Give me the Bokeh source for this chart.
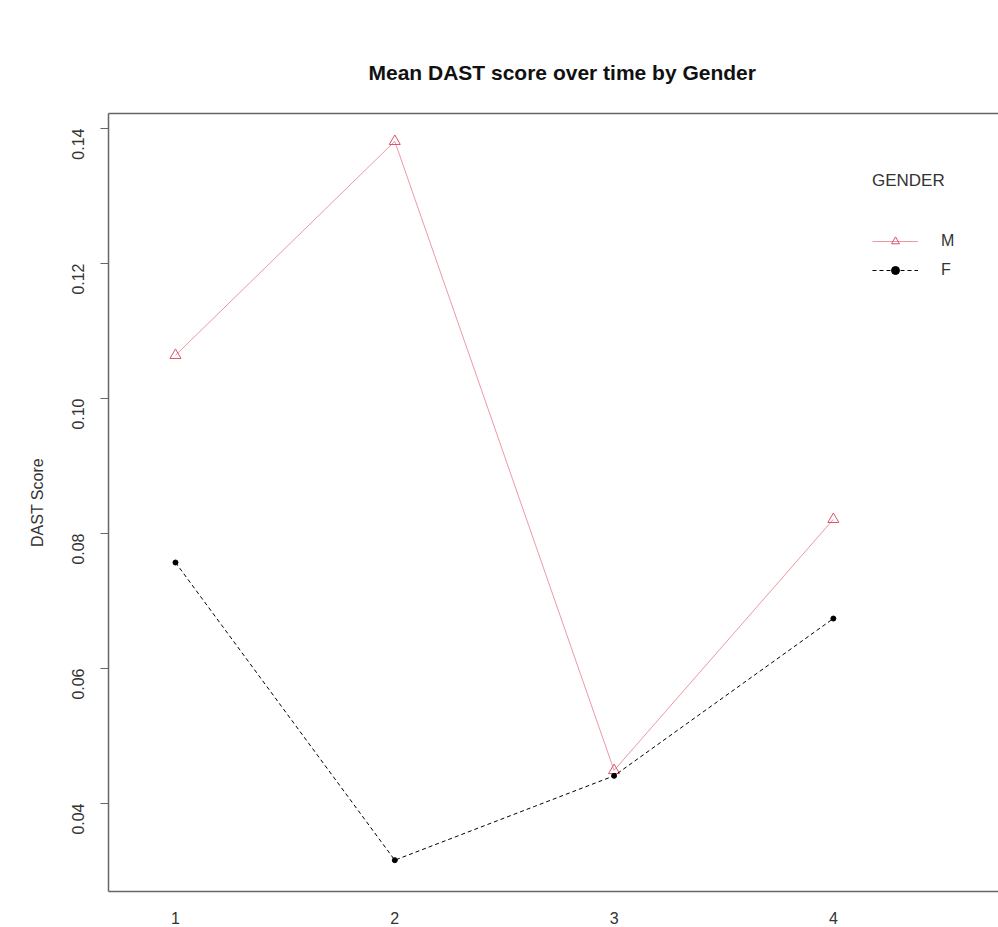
import math
from bokeh.plotting import figure
from bokeh.models import Range1d, Legend, LegendItem, FixedTicker, LinearAxis
from bokeh.embed import file_html
from bokeh.resources import INLINE

# data
times = [1, 2, 3, 4]
male = [0.1064, 0.1381, 0.0449, 0.0821]
female = [0.0757, 0.0316, 0.0441, 0.0674]
y_ticks = [0.04, 0.06, 0.08, 0.10, 0.12, 0.14]
y_tick_labels = ["0.04", "0.06", "0.08", "0.10", "0.12", "0.14"]
title_text = "Mean DAST score over time by Gender"
y_title = "DAST Score"
legend_title = "GENDER"
series_names = ["M", "F"]

FONT = "Liberation Sans"
PINK = "#DF536B"
BOX = "#666666"

p = figure(width=998, height=927, output_backend="svg", toolbar_location=None,
           x_range=Range1d(0.6945, 4.753), y_range=Range1d(0.02696, 0.14222),
           min_border_left=108, min_border_right=0, min_border_top=113, min_border_bottom=36)
p.background_fill_color = "white"
p.border_fill_color = "white"
p.outline_line_color = None
p.grid.visible = False

# title
p.title.text = title_text
p.title.align = "left"
p.title.offset = 260
p.title.text_font = FONT
p.title.text_font_size = "21px"
p.title.text_font_style = "bold"
p.title.text_color = "#111111"
p.title.standoff = 60

# y axis
yax = p.yaxis[0]
yax.ticker = FixedTicker(ticks=y_ticks)
yax.major_label_overrides = {t: l for t, l in zip(y_ticks, y_tick_labels)}
yax.major_label_orientation = math.pi / 2
yax.major_tick_out = 8
yax.major_tick_in = 0
yax.minor_tick_line_color = None
yax.axis_line_color = BOX
yax.axis_line_width = 1.5
yax.major_tick_line_color = BOX
yax.major_label_text_font = FONT
yax.major_label_text_font_size = "16px"
yax.major_label_text_color = "#333333"
yax.major_label_standoff = 22
yax.axis_label = y_title
yax.axis_label_text_font = FONT
yax.axis_label_text_font_size = "16px"
yax.axis_label_text_font_style = "normal"
yax.axis_label_text_color = "#333333"
yax.axis_label_standoff = 18

# x axis (bottom)
xax = p.xaxis[0]
xax.ticker = FixedTicker(ticks=times)
xax.major_tick_out = 0
xax.major_tick_in = 0
xax.minor_tick_line_color = None
xax.axis_line_color = BOX
xax.axis_line_width = 1.5
xax.major_label_text_font = FONT
xax.major_label_text_font_size = "16px"
xax.major_label_text_color = "#333333"
xax.major_label_standoff = 20

# top border (box edge) as an empty axis
top_axis = LinearAxis(ticker=FixedTicker(ticks=[]), axis_line_color=BOX, axis_line_width=1.5,
                      major_tick_line_color=None, minor_tick_line_color=None,
                      major_tick_out=0, major_tick_in=0, major_label_standoff=0,
                      major_label_text_font_size="0px")
p.add_layout(top_axis, "above")

# series
lm = p.line(times, male, line_color=PINK, line_width=1, line_alpha=0.6)
sm = p.scatter(times, male, marker="triangle", size=11, fill_color=None,
               line_color=PINK, line_width=1)
lf = p.line(times, female, line_color="black", line_width=1, line_dash="4 3")
sf = p.scatter(times, female, marker="circle", size=5, fill_color="black", line_color="black")

legend = Legend(items=[LegendItem(label=series_names[0], renderers=[lm, sm]),
                       LegendItem(label=series_names[1], renderers=[lf, sf])],
                location=(764, 611), title=legend_title,
                title_text_font=FONT, title_text_font_size="17px", title_text_font_style="normal",
                title_text_color="#333333", title_standoff=40,
                label_text_font=FONT, label_text_font_size="16px", label_text_color="#333333",
                glyph_width=46, glyph_height=20, label_standoff=23, spacing=9,
                border_line_color=None, background_fill_alpha=0, padding=0, margin=0)
p.add_layout(legend, "center")

open("out.html", "w").write(file_html(p, INLINE))
